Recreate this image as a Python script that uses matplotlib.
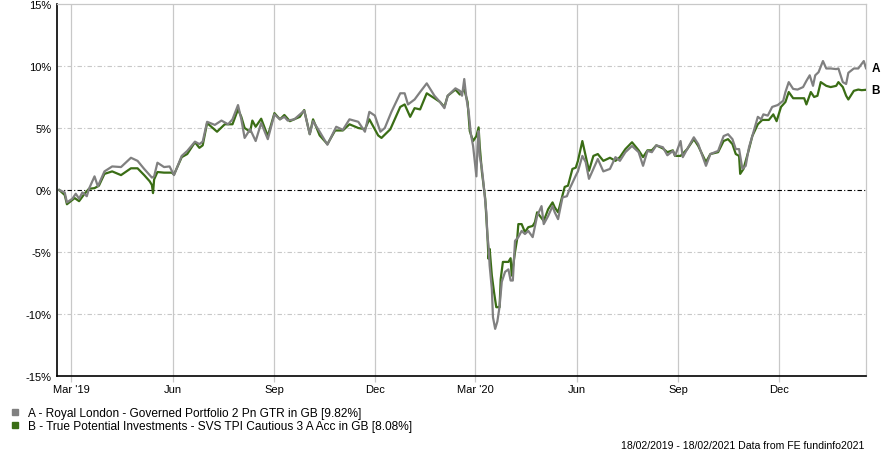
"""FE fundinfo style cumulative performance chart, A vs B."""

import datetime as dt

from matplotlib import pyplot as plt
from matplotlib.lines import Line2D

START = dt.date(2019, 2, 18)

# Days since 18/02/2019 and cumulative return (%)
days_a = [0, 5, 7, 12, 15, 18, 21, 25, 27, 32, 35, 41, 48, 56, 65, 71, 77, 84, 86, 89,
          95, 100, 104, 111, 116, 123, 127, 130, 134, 141, 147, 153, 157, 162, 165, 168,
          173, 178, 183, 189, 195, 200, 204, 207, 213, 222, 227, 230, 236, 243, 251, 257,
          263, 271, 277, 281, 286, 291, 295, 301, 309, 313, 316, 322, 327, 333, 340, 345,
          349, 352, 359, 363, 365, 367, 369, 371, 373, 375, 377, 378, 379, 380, 381, 383,
          384, 387, 388, 389, 390, 392, 393, 395, 397, 399, 401, 404, 407, 409, 411, 413,
          416, 419, 422, 425, 429, 433, 437, 439, 443, 447, 449, 452, 456, 460, 463, 468,
          470, 474, 477, 480, 484, 488, 493, 499, 504, 508, 513, 519, 525, 529, 533, 537,
          541, 547, 551, 556, 558, 563, 565, 569, 575, 579, 586, 590, 597, 602, 606, 610,
          613, 616, 619, 622, 625, 628, 633, 636, 638, 642, 646, 651, 656, 658, 661, 665,
          669, 674, 677, 680, 683, 685, 688, 692, 695, 699, 704, 706, 710, 713, 715, 720,
          724, 729, 731]
returns_a = [0.0, -0.2, -1.0, -0.7, -0.3, -0.7, -0.2, -0.5, 0.1, 1.1, 0.3, 1.5, 1.9, 1.85,
             2.6, 2.35, 1.7, 1.0, 1.1, 2.2, 1.85, 1.9, 1.2, 2.75, 3.15, 3.9, 3.7, 3.9, 5.5,
             5.25, 5.6, 5.3, 5.7, 6.85, 5.7, 4.2, 4.9, 3.95, 5.4, 4.1, 6.1, 5.7, 5.9, 5.6,
             5.7, 6.4, 4.5, 5.55, 4.7, 3.65, 5.1, 4.85, 5.7, 5.5, 4.7, 6.3, 6.0, 4.7, 5.0,
             6.3, 7.8, 7.8, 6.9, 7.3, 7.9, 8.6, 7.6, 7.1, 6.6, 7.6, 8.2, 8.0, 7.6, 8.95,
             7.35, 6.3, 4.5, 3.55, 1.95, 1.1, 3.5, 4.75, 2.75, 1.7, 0.9, -1.8, -3.7, -4.5,
             -6.1, -8.0, -10.25, -11.2, -10.6, -9.4, -7.4, -6.6, -6.4, -7.3, -7.3, -4.1,
             -3.8, -3.3, -3.55, -3.3, -3.8, -2.1, -1.3, -2.75, -2.1, -1.3, -1.8, -2.35,
             -0.6, -0.5, 0.2, 1.15, 1.5, 2.75, 2.25, 0.9, 1.7, 2.5, 1.5, 1.7, 2.65, 2.35,
             3.05, 3.55, 3.05, 1.95, 3.15, 3.05, 3.6, 3.45, 2.8, 3.15, 2.75, 3.95, 2.65,
             3.3, 4.25, 3.7, 1.95, 2.9, 3.15, 4.35, 4.5, 4.1, 3.3, 3.3, 1.7, 1.95, 3.45,
             4.35, 5.9, 5.7, 6.1, 6.0, 6.7, 6.85, 7.2, 7.9, 8.7, 8.15, 8.1, 8.3, 8.8, 9.25,
             8.4, 9.25, 9.5, 10.4, 9.8, 9.8, 9.75, 9.8, 8.7, 8.55, 9.45, 9.8, 9.8, 10.4,
             9.82]

days_b = [0, 5, 7, 14, 18, 23, 27, 32, 36, 41, 48, 56, 65, 71, 77, 82, 84, 85, 86, 89,
          95, 102, 104, 111, 116, 123, 127, 130, 134, 143, 150, 157, 162, 165, 168, 173,
          175, 178, 183, 189, 195, 200, 204, 209, 218, 222, 227, 230, 236, 243, 250, 257,
          263, 271, 277, 281, 289, 292, 300, 309, 313, 318, 322, 327, 333, 340, 345, 349,
          352, 359, 363, 367, 370, 372, 375, 378, 380, 381, 383, 386, 388, 389, 390, 392,
          394, 396, 399, 400, 402, 407, 409, 410, 413, 415, 416, 419, 422, 425, 429, 431,
          433, 439, 443, 447, 449, 452, 456, 458, 461, 465, 468, 470, 474, 477, 480, 484,
          488, 493, 499, 504, 508, 513, 519, 525, 529, 533, 537, 541, 547, 551, 556, 558,
          563, 569, 575, 579, 586, 590, 597, 602, 606, 610, 613, 616, 617, 620, 625, 628,
          633, 637, 643, 647, 650, 654, 658, 661, 665, 669, 675, 677, 681, 684, 687, 690,
          695, 699, 704, 706, 710, 713, 715, 720, 724, 727, 731]
returns_b = [0.0, -0.4, -1.15, -0.65, -0.9, -0.3, 0.1, 0.15, 0.35, 1.3, 1.5, 1.2, 1.75,
             1.75, 1.2, 0.7, 0.4, -0.25, 0.85, 1.45, 1.4, 1.4, 1.25, 2.65, 2.9, 3.85, 3.4,
             3.6, 5.4, 4.7, 5.3, 5.3, 6.5, 5.9, 5.0, 4.7, 5.6, 5.1, 5.75, 4.35, 6.2, 5.7,
             6.05, 5.55, 5.9, 6.45, 4.5, 5.7, 4.4, 3.7, 4.8, 4.8, 5.3, 5.0, 4.9, 5.7, 4.4,
             4.2, 4.9, 6.7, 6.9, 5.9, 6.6, 6.5, 7.8, 7.4, 7.1, 6.7, 7.6, 8.1, 7.7, 8.1, 7.1,
             4.75, 3.95, 4.35, 5.05, 3.55, 1.45, -0.7, -3.7, -5.55, -4.75, -6.9, -8.25,
             -9.45, -9.45, -7.2, -5.8, -5.8, -5.5, -6.9, -5.0, -3.9, -2.75, -2.75, -3.4,
             -3.0, -2.9, -2.6, -1.8, -2.5, -1.55, -1.0, -1.4, -1.8, -0.45, 0.25, 0.35, 1.7,
             1.8, 2.35, 3.95, 2.75, 1.55, 2.75, 2.9, 2.35, 2.6, 2.35, 2.65, 3.3, 3.85, 3.2,
             2.65, 3.2, 3.2, 3.6, 3.35, 3.05, 3.2, 2.75, 2.75, 3.3, 4.1, 3.55, 2.25, 2.9,
             3.05, 3.95, 4.1, 3.7, 2.9, 2.75, 1.3, 1.7, 3.3, 4.35, 5.3, 5.65, 5.65, 6.1,
             5.55, 6.7, 7.1, 7.9, 7.4, 7.4, 7.4, 6.9, 7.9, 7.5, 7.6, 8.7, 8.4, 8.3, 8.4,
             8.7, 8.3, 7.6, 7.3, 8.0, 8.1, 8.05, 8.08]

tick_dates = ["2019-03-01", "2019-06-01", "2019-09-01", "2019-12-01",
              "2020-03-01", "2020-06-01", "2020-09-01", "2020-12-01"]
tick_labels = ["Mar '19", "Jun", "Sep", "Dec", "Mar '20", "Jun", "Sep", "Dec"]
y_ticks = [-15, -10, -5, 0, 5, 10, 15]

series_names = ["A - Royal London - Governed Portfolio 2 Pn GTR in GB [9.82%]",
                "B - True Potential Investments - SVS TPI Cautious 3 A Acc in GB [8.08%]"]
series_tags = ["A", "B"]
footer = "18/02/2019 - 18/02/2021 Data from FE fundinfo2021"

COLOURS = ["#808080", "#3a6d15"]
GRID = "#c8c8c8"

plt.rcParams["font.family"] = ["Liberation Sans", "DejaVu Sans"]
plt.rcParams["font.size"] = 8


def to_dates(days):
    return [START + dt.timedelta(days=d) for d in days]


fig = plt.figure(figsize=(8.85, 4.52), dpi=100)
W, H = 885, 452
ax = fig.add_axes([57 / W, 1 - 377 / H, 809 / W, 372 / H])

series = [(days_a, returns_a), (days_b, returns_b)]
# green underneath, grey on top
for idx in (1, 0):
    days, vals = series[idx]
    ax.plot(to_dates(days), vals, color=COLOURS[idx], lw=1.6, zorder=3 + (1 - idx))
    ax.annotate(series_tags[idx], xy=(to_dates(days)[-1], vals[-1]), xytext=(4, 0),
                textcoords="offset points", va="center", ha="left", fontsize=8.5,
                fontweight="bold", annotation_clip=False)

ax.axhline(0, color="black", lw=0.8, dashes=(4, 2, 1, 2), zorder=2)

ax.set_xlim(START - dt.timedelta(days=2.7), START + dt.timedelta(days=731.8))
ax.set_ylim(-15, 15)
ax.set_yticks(y_ticks)
ax.set_yticklabels([f"{t}%" for t in y_ticks])
ax.set_xticks([dt.date.fromisoformat(d) for d in tick_dates])
ax.set_xticklabels(tick_labels)

for t in y_ticks[1:-1]:
    if t != 0:
        ax.axhline(t, color=GRID, lw=0.8, dashes=(4, 2, 1, 2), zorder=1)
ax.xaxis.grid(True, color=GRID, lw=0.9, ls="-", zorder=1)

ax.tick_params(axis="y", length=0, pad=4)
ax.tick_params(axis="x", length=4, color=GRID, width=0.9, pad=1.5)

for side in ("top", "right"):
    ax.spines[side].set_color(GRID)
    ax.spines[side].set_linewidth(0.9)
for side in ("left", "bottom"):
    ax.spines[side].set_color("black")
    ax.spines[side].set_linewidth(1.2)

handles = [Line2D([], [], ls="", marker="s", markersize=5, color=c) for c in COLOURS]
fig.legend(handles, series_names, loc="upper left", bbox_to_anchor=(9 / W, 1 - 408 / H),
           frameon=False, handlelength=1, handletextpad=0.55, labelspacing=0.12,
           borderpad=0, borderaxespad=0, fontsize=8.6)

fig.text(864 / W, 1 - 441 / H, footer, ha="right", va="top", fontsize=7.6)

fig.savefig("out.png", dpi=100)
